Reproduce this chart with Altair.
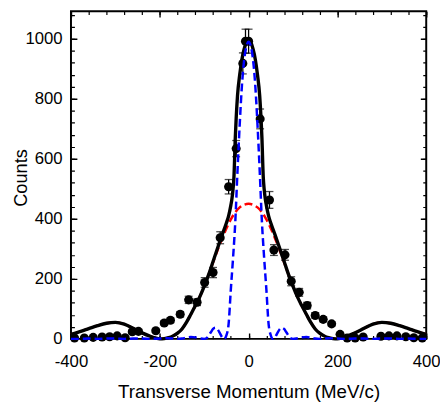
import altair as alt
import pandas as pd

# ---- measured data points ----
pt_x = [-392, -370, -350, -330, -313, -296, -278, -262, -248, -209, -190, -176, -154, -135, -116,
        -99, -80, -64, -45, -28, -13, -7, 0, 26, 47, 57, 82, 96, 114, 132, 150, 168, 187, 206,
        222, 240, 258, 298, 316, 334, 354, 372, 391]
pt_y = [3, 3, 5, 6, 7, 10, 4, 24, 25, 27, 53, 62, 82, 130, 122,
        188, 221, 337, 507, 634, 918, 992, 992, 733, 463, 296, 280, 192, 155, 111, 78, 65, 50, 15,
        3, 3, 6, 9, 10, 10, 7, 4, 3]
pt_err = [2, 2, 2, 3, 3, 3, 2, 5, 5, 5, 7, 8, 9, 12, 11,
          16, 17, 20, 24, 27, 35, 40, 40, 33, 28, 18, 18, 15, 13, 11, 9, 8, 7, 4,
          2, 2, 3, 3, 3, 3, 3, 2, 2]

# ---- total fit (black) ----
tot_x = [-400, -380, -360, -340, -320, -300, -280, -260, -240, -220, -210, -200, -190, -180, -170,
         -160, -150, -140, -130, -120, -110, -100, -90, -80, -70, -60, -50, -45, -40, -38, -35,
         -33, -30, -28, -25, -20, -15, -10, -5, 0, 5, 10, 15, 20, 25, 28, 30, 33, 35, 38, 40, 45,
         50, 60, 70, 80, 90, 100, 110, 120, 130, 140, 150, 160, 170, 180, 190, 200, 210, 220,
         240, 260, 280, 300, 320, 340, 360, 380, 400]
tot_y = [15, 24, 34, 44, 52, 55, 49, 35, 20, 8, 3, 0, 1, 4, 10,
         19, 33, 55, 82, 110, 140, 175, 214, 258, 302, 345, 386, 410, 445, 462, 500,
         540, 670, 735, 810, 880, 932, 966, 988, 995, 988, 966, 932, 880, 810, 735, 670, 540, 500, 462, 445, 410,
         386, 345, 302, 258, 214, 175, 140, 110, 82, 55, 33, 19, 10, 4, 1, 0, 3, 8,
         20, 35, 49, 55, 52, 44, 34, 24, 15]

# ---- broad component (red dashed) ----
broad_x = [-400, -380, -360, -340, -320, -300, -280, -260, -240, -220, -200, -190, -180, -170, -160,
           -150, -140, -130, -120, -110, -100, -90, -80, -70, -60, -50, -40, -30, -20, -10, 0,
           10, 20, 30, 40, 50, 60, 70, 80, 90, 100, 110, 120, 130, 140, 150, 160, 170, 180, 190,
           200, 220, 240, 260, 280, 300, 320, 340, 360, 380, 400]
broad_y = [15, 24, 34, 44, 52, 55, 49, 35, 20, 8, 0, 1, 4, 10, 19,
           33, 55, 82, 110, 140, 175, 214, 255, 295, 333, 368, 398, 422, 438, 447, 450,
           447, 438, 422, 398, 368, 333, 295, 255, 214, 175, 140, 110, 82, 55, 33, 19, 10, 4, 1,
           0, 8, 20, 35, 49, 55, 52, 44, 34, 24, 15]

# ---- narrow component (blue dashed) ----
narrow_x = [-400, -380, -360, -340, -320, -300, -280, -260, -240, -220, -200, -180, -160, -150, -140,
            -130, -120, -110, -100, -95, -90, -85, -80, -75, -70, -65, -60, -55, -50, -45, -40,
            -35, -30, -25, -20, -15, -10, -5, 0, 5, 10, 15, 20, 25, 30, 35, 40, 45, 50, 55, 60,
            65, 70, 75, 80, 85, 90, 95, 100, 110, 120, 130, 140, 150, 160, 180, 200, 220, 240,
            260, 280, 300, 320, 340, 360, 380, 400]
narrow_y = [0, 0, 1, 0, 1, 1, 0, 1, 1, 0, 1, 2, 0, 1, 4,
            6, 5, 2, 0, 2, 10, 22, 33, 37, 32, 20, 6, 0, 12, 50, 165,
            270, 390, 560, 715, 845, 930, 975, 990, 975, 930, 845, 715, 560, 390, 270, 165, 50, 12, 0, 6,
            20, 32, 37, 33, 22, 10, 2, 0, 2, 5, 6, 4, 1, 0, 2, 1, 0, 1,
            1, 0, 1, 1, 0, 1, 0, 0]

x_major_vals = [-400, -200, 0, 200, 400]
y_major_vals = [0, 200, 400, 600, 800, 1000]
x_minor_vals = list(range(-400, 401, 40))
y_minor_vals = list(range(0, 1081, 40))

W, H = 361, 333
FONT = "Liberation Sans"
X_DOM = [-400, 400]
Y_DOM = [0, 1092]

pts = pd.DataFrame({"x": pt_x, "y": pt_y, "err": pt_err})
pts["lo"] = pts["y"] - pts["err"]
pts["hi"] = pts["y"] + pts["err"]
tot = pd.DataFrame({"x": tot_x, "y": tot_y})
broad = pd.DataFrame({"x": broad_x, "y": broad_y})
narrow = pd.DataFrame({"x": narrow_x, "y": narrow_y})


def xsc():
    return alt.Scale(domain=X_DOM, nice=False, zero=False)


def ysc():
    return alt.Scale(domain=Y_DOM, nice=False, zero=False)


x_major = alt.Axis(
    values=x_major_vals, title="Transverse Momentum (MeV/c)", grid=True, gridColor="black",
    gridWidth=1.4, gridOpacity=1, gridDash=[6, H - 12], ticks=False, tickSize=0, domain=False,
    labelFlush=False, labelPadding=15, labelFontSize=17, labelFont=FONT, labelColor="black",
    labelExpr="datum.value < 0 ? '-' + abs(datum.value) : '' + datum.value",
    titleFontSize=19, titleFont=FONT, titleFontWeight="normal", titleColor="black",
    titleY=60, titleBaseline="alphabetic", orient="bottom")
y_major = alt.Axis(
    values=y_major_vals, title="Counts", grid=True, gridColor="black", gridWidth=1.4,
    gridOpacity=1, gridDash=[6, W - 12], ticks=False, tickSize=0, domain=False,
    labelPadding=9, labelFontSize=17, labelFont=FONT, labelColor="black",
    labelExpr="'' + datum.value",
    titleFontSize=18.5, titleFont=FONT, titleFontWeight="normal", titleColor="black",
    titleX=-45, titleY=169, titleBaseline="alphabetic", orient="left")
x_minor = alt.Axis(values=x_minor_vals, title=None, labels=False, ticks=False, domain=False,
                   grid=True, gridColor="black", gridWidth=1.2, gridOpacity=1,
                   gridDash=[3.5, H - 7], orient="top")
y_minor = alt.Axis(values=y_minor_vals, title=None, labels=False, ticks=False, domain=False,
                   grid=True, gridColor="black", gridWidth=1.2, gridOpacity=1,
                   gridDash=[3.5, W - 7], orient="right")

red = alt.Chart(broad).mark_line(color="#ff0000", strokeWidth=2.5, strokeDash=[8, 4],
                                 interpolate="monotone").encode(
    x=alt.X("x:Q", scale=xsc(), axis=x_major),
    y=alt.Y("y:Q", scale=ysc(), axis=y_major))

black = alt.Chart(tot).mark_line(color="black", strokeWidth=3.4, interpolate="monotone").encode(
    x=alt.X("x:Q", scale=xsc(), axis=x_minor),
    y=alt.Y("y:Q", scale=ysc(), axis=y_minor))

bars = alt.Chart(pts).mark_rule(color="black", strokeWidth=1.3).encode(
    x=alt.X("x:Q", scale=xsc(), axis=None),
    y=alt.Y("lo:Q", scale=ysc(), axis=None), y2="hi:Q")

cap_lo = alt.Chart(pts).mark_tick(color="black", orient="horizontal", size=8, thickness=1.3).encode(
    x=alt.X("x:Q", scale=xsc(), axis=None),
    y=alt.Y("lo:Q", scale=ysc(), axis=None))

cap_hi = alt.Chart(pts).mark_tick(color="black", orient="horizontal", size=8, thickness=1.3).encode(
    x=alt.X("x:Q", scale=xsc(), axis=None),
    y=alt.Y("hi:Q", scale=ysc(), axis=None))

dots = alt.Chart(pts).mark_point(filled=True, size=85, color="black", opacity=1, strokeWidth=0).encode(
    x=alt.X("x:Q", scale=xsc(), axis=None),
    y=alt.Y("y:Q", scale=ysc(), axis=None))

blue = alt.Chart(narrow).mark_line(color="#0000ff", strokeWidth=2.5, strokeDash=[8, 4],
                                   interpolate="monotone").encode(
    x=alt.X("x:Q", scale=xsc(), axis=None),
    y=alt.Y("y:Q", scale=ysc(), axis=None))

chart = alt.layer(red, black, bars, cap_lo, cap_hi, dots, blue).resolve_scale(
    x="independent", y="independent"
).properties(
    width=W, height=H,
    padding={"left": 64, "top": 0, "right": 14, "bottom": 66},
    autosize=alt.AutoSizeParams(type="none"),
    background="white",
).configure_view(stroke="black", strokeWidth=2)

chart.save("out.html", embed_options={"renderer": "svg", "actions": False})
